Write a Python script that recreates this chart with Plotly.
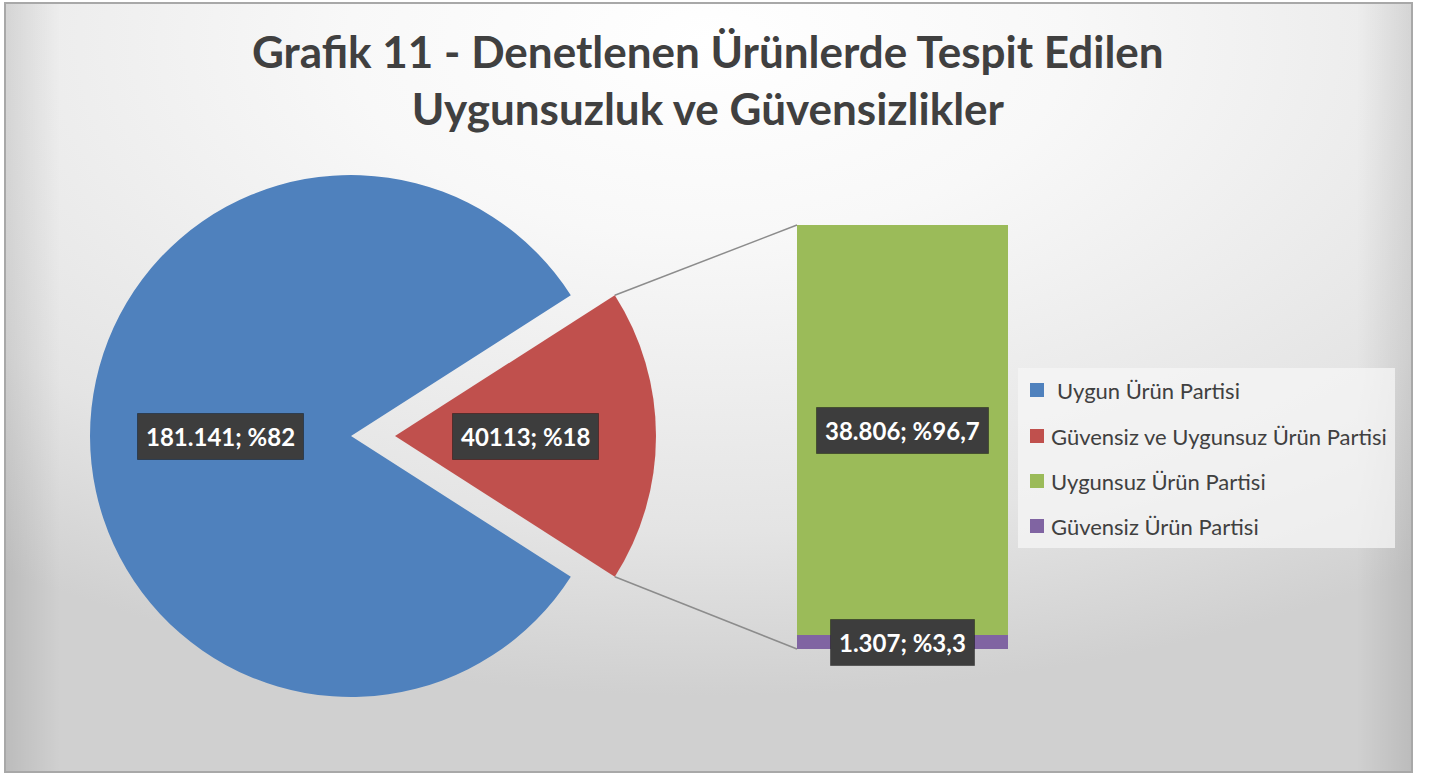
import base64
import math
import plotly.graph_objects as go

# ---------------- data ----------------
pie_labels = ["Uygun Ürün Partisi", "Güvensiz ve Uygunsuz Ürün Partisi"]
pie_values = [181141, 40113]
pie_texts = ["181.141; %82", "40113; %18"]

bar_labels = ["Uygunsuz Ürün Partisi", "Güvensiz Ürün Partisi"]
bar_values = [38806, 1307]
bar_texts = ["38.806; %96,7", "1.307; %3,3"]

colors = ["#4F81BD", "#C0504D", "#9BBB59", "#8064A2"]
title_lines = ["Grafik 11 - Denetlenen Ürünlerde Tespit Edilen",
               "Uygunsuzluk ve Güvensizlikler"]

# ---------------- layout geometry (pixels) ----------------
W, H = 1431, 776
FONT = "Lato, 'Open Sans', sans-serif"
TXT = "#404040"

PIE_CX, PIE_CY, PIE_R = 351, 436, 261
PULL_PX = 44
pull = PULL_PX / PIE_R
box = 2 * PIE_R * (1 + pull)
pie_dom_x = [(PIE_CX - box / 2) / W, (PIE_CX + box / 2) / W]
pie_dom_y = [1 - (PIE_CY + box / 2) / H, 1 - (PIE_CY - box / 2) / H]

BAR_X0, BAR_X1, BAR_TOP, BAR_BOT = 797, 1008, 225, 649
bar_dom_x = [BAR_X0 / W, BAR_X1 / W]
bar_dom_y = [1 - BAR_BOT / H, 1 - BAR_TOP / H]

total_pie = sum(pie_values)
other = pie_values[1]
bar_total = sum(bar_values)

def px(x):
    return x / W

def py(y):
    return 1 - y / H

fig = go.Figure()

# pie: red slice (second) centred on 3 o'clock, clockwise
rotation = 90 + 180 * other / total_pie
fig.add_trace(go.Pie(
    labels=pie_labels, values=pie_values, sort=False, direction="clockwise",
    rotation=rotation, pull=[0, pull], textinfo="none", hoverinfo="label+value+percent",
    marker=dict(colors=colors[:2], line=dict(width=0)),
    domain=dict(x=pie_dom_x, y=pie_dom_y), showlegend=False,
))

# stacked bar (bottom = purple, top = green)
for lab, val, col in zip(reversed(bar_labels), reversed(bar_values), [colors[3], colors[2]]):
    fig.add_trace(go.Bar(
        x=[0], y=[val], name=lab, width=1, marker=dict(color=col, line=dict(width=0)),
        xaxis="x", yaxis="y", showlegend=False, hoverinfo="name+y",
    ))

# ---------------- background ----------------
fx0, fx1, fy0, fy1 = 4, 1413, 2, 773
bw, bh = fx1 - fx0, fy1 - fy0
svg = f'''<svg xmlns="http://www.w3.org/2000/svg" width="{bw}" height="{bh}" viewBox="0 0 {bw} {bh}" preserveAspectRatio="none">
<defs>
<radialGradient id="g" cx="0.5" cy="0.05" r="0.85" fx="0.5" fy="0.05">
<stop offset="0" stop-color="#ffffff"/>
<stop offset="0.3" stop-color="#f8f8f8"/>
<stop offset="0.75" stop-color="#e4e4e4"/>
<stop offset="1" stop-color="#d0d0d0"/>
</radialGradient>
<linearGradient id="l" x1="0" y1="0" x2="1" y2="0">
<stop offset="0" stop-color="#000" stop-opacity="0.10"/>
<stop offset="0.04" stop-color="#000" stop-opacity="0"/>
<stop offset="0.96" stop-color="#000" stop-opacity="0"/>
<stop offset="1" stop-color="#000" stop-opacity="0.10"/>
</linearGradient>
</defs>
<rect x="0" y="0" width="{bw}" height="{bh}" fill="url(#g)"/>
<rect x="0" y="0" width="{bw}" height="{bh}" fill="url(#l)"/>
<rect x="1" y="1" width="{bw-2}" height="{bh-2}" fill="none" stroke="#a8a8a8" stroke-width="2"/>
</svg>'''
uri = "data:image/svg+xml;base64," + base64.b64encode(svg.encode()).decode()

shapes = []
annotations = []

# connector lines from the pulled slice to the bar
half = math.pi * other / total_pie
apex_x = PIE_CX + PULL_PX
tip_x = apex_x + PIE_R * math.cos(half)
tip_top = PIE_CY - PIE_R * math.sin(half)
tip_bot = PIE_CY + PIE_R * math.sin(half)
for ty, by in [(tip_top, BAR_TOP), (tip_bot, BAR_BOT)]:
    shapes.append(dict(type="line", xref="paper", yref="paper",
                       x0=px(tip_x), y0=py(ty), x1=px(BAR_X0), y1=py(by),
                       line=dict(color="#8c8c8c", width=1.5), layer="below"))

# legend (manual, to match spacing)
LEG_X0, LEG_X1, LEG_Y0, LEG_Y1 = 1018, 1395, 368, 548
shapes.append(dict(type="rect", xref="paper", yref="paper",
                   x0=px(LEG_X0), x1=px(LEG_X1), y0=py(LEG_Y1), y1=py(LEG_Y0),
                   fillcolor="rgba(245,245,245,0.75)", line=dict(width=0), layer="below"))
leg_names = pie_labels + bar_labels
leg_y = [390, 436, 481, 526]
leg_tx = [1055, 1049, 1049, 1049]
for name, col, yy, tx in zip(leg_names, colors, leg_y, leg_tx):
    shapes.append(dict(type="rect", xref="paper", yref="paper",
                       x0=px(1030), x1=px(1044), y0=py(yy + 7), y1=py(yy - 7),
                       fillcolor=col, line=dict(width=0)))
    annotations.append(dict(xref="paper", yref="paper", x=px(tx), y=py(yy),
                            xanchor="left", yanchor="middle", showarrow=False,
                            text=name, font=dict(family=FONT, size=22, color=TXT)))

# title
annotations.append(dict(xref="paper", yref="paper", x=px(708), y=py(80),
                        xanchor="center", yanchor="middle", showarrow=False,
                        text="<b>" + "<br>".join(title_lines) + "</b>",
                        font=dict(family=FONT, size=44, color=TXT)))

# data labels (dark box)
def label(x, y, text, xref="paper", yref="paper"):
    annotations.append(dict(x=x, y=y, xref=xref, yref=yref, showarrow=False,
                            xanchor="center", yanchor="middle", borderpad=8,
                            text=f"<b>{text}</b>", bgcolor="#3d3d3d",
                            bordercolor="rgba(0,0,0,0.35)", borderwidth=1,
                            font=dict(family=FONT, size=24, color="white")))

label(px(PIE_CX - PIE_R / 2), py(PIE_CY), pie_texts[0])
label(px(apex_x + PIE_R / 2), py(PIE_CY), pie_texts[1])
label(0, bar_values[1] + bar_values[0] / 2, bar_texts[0], "x", "y")
label(0, bar_values[1] / 2, bar_texts[1], "x", "y")

fig.update_layout(
    width=W, height=H,
    margin=dict(l=0, r=0, t=0, b=0),
    paper_bgcolor="white", plot_bgcolor="rgba(0,0,0,0)",
    barmode="stack", bargap=0,
    xaxis=dict(domain=bar_dom_x, range=[-0.5, 0.5], visible=False, fixedrange=True),
    yaxis=dict(domain=bar_dom_y, range=[0, bar_total], visible=False, fixedrange=True),
    images=[dict(source=uri, xref="paper", yref="paper", x=px(fx0), y=py(fy0),
                 sizex=px(bw), sizey=bh / H, sizing="stretch", layer="below",
                 xanchor="left", yanchor="top")],
    shapes=shapes, annotations=annotations,
    showlegend=False,
)

fig.write_html("out.html", config={"displayModeBar": False},
               post_script="document.body.style.margin='0';")
